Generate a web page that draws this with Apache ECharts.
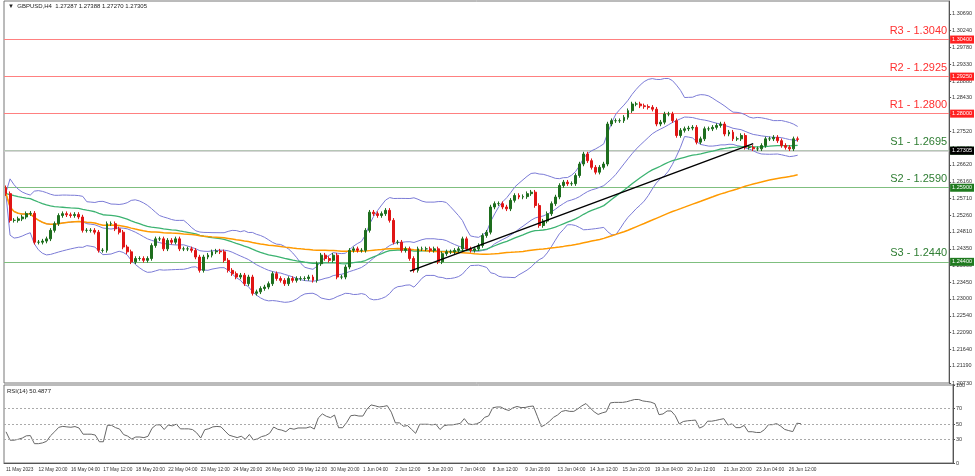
<!DOCTYPE html>
<html><head><meta charset="utf-8">
<script src="https://cdn.jsdelivr.net/npm/echarts@6/dist/echarts.min.js"></script>
<style>html,body{margin:0;padding:0;background:#fff}#c{width:975px;height:476px}</style>
</head><body><div id="c"></div>
<script>
const closesA=[1.2584,1.2512,1.2512,1.2516,1.2521,1.2530,1.2531,1.2453,1.2453,1.2456,1.2462,1.2485,1.2503,1.2525,1.2530,1.2527,1.2525,1.2528,1.2521,1.2485,1.2485,1.2485,1.2480,1.2431,1.2431,1.2503,1.2503,1.2489,1.2480,1.2440,1.2427,1.2400,1.2409,1.2409,1.2404,1.2409,1.2444,1.2462,1.2462,1.2435,1.2458,1.2453,1.2462,1.2435,1.2435,1.2435,1.2431,1.2413,1.2377,1.2413,1.2418,1.2427,1.2429,1.2427,1.2404,1.2377,1.2368,1.2359,1.2364,1.2341,1.2359,1.2315,1.2319,1.2328,1.2332,1.2341,1.2368,1.2355];
const closesB=[1.2350,1.2341,1.2355,1.2350,1.2355,1.2355,1.2355,1.2359,1.2350,1.2395,1.2418,1.2409,1.2404,1.2418,1.2359,1.2359,1.2386,1.2431,1.2435,1.2431,1.2431,1.2485,1.2534,1.2530,1.2525,1.2530,1.2539,1.2512,1.2453,1.2453,1.2431,1.2435,1.2409,1.2377,1.2435,1.2435,1.2435,1.2431,1.2435,1.2400,1.2422,1.2427,1.2427,1.2431,1.2435,1.2462,1.2435,1.2431,1.2435,1.2444,1.2471,1.2480,1.2548,1.2557,1.2557,1.2548,1.2543,1.2566,1.2579,1.2575,1.2576,1.2584,1.2588,1.2552,1.2498,1.2510,1.2530];
const closesC=[1.2557,1.2575,1.2606,1.2615,1.2611,1.2611,1.2633,1.2664,1.2691,1.2673,1.2655,1.2642,1.2655,1.2664,1.2772,1.2781,1.2781,1.2781,1.2790,1.2808,1.2826,1.2826,1.2821,1.2819,1.2817,1.2812,1.2772,1.2777,1.2799,1.2799,1.2781,1.2741,1.2755,1.2759,1.2761,1.2763,1.2723,1.2732,1.2759,1.2759,1.2763,1.2768,1.2772,1.2745,1.2750,1.2732,1.2732,1.2741,1.2709,1.2709,1.2705,1.2705,1.2714,1.2732,1.2732,1.2736,1.2727,1.2714,1.2709,1.2705,1.2732,1.27305];
const firstOpen=1.2600;
const wick=0.0006;
const tickLabels=["11 May 2023","12 May 20:00","16 May 04:00","17 May 12:00","18 May 20:00","22 May 04:00","23 May 12:00","24 May 20:00","26 May 04:00","29 May 12:00","30 May 20:00","1 Jun 04:00","2 Jun 12:00","5 Jun 20:00","7 Jun 04:00","8 Jun 12:00","9 Jun 20:00","13 Jun 04:00","14 Jun 12:00","15 Jun 20:00","19 Jun 04:00","20 Jun 12:00","21 Jun 20:00","23 Jun 04:00","26 Jun 12:00"];
const priceTicks=[1.30690,1.30240,1.29780,1.29330,1.28880,1.28430,1.27970,1.27520,1.27070,1.26620,1.26160,1.25710,1.25260,1.24810,1.24350,1.23900,1.23450,1.23000,1.22540,1.22090,1.21640,1.21190,1.20730];
const resist=[["R3",1.3040],["R2",1.2925],["R1",1.2800]];
const support=[["S1",1.2695],["S2",1.2590],["S3",1.2440]];
const lastPrice=1.27305;
const trendLine=[[100,1.2375],[185,1.2719]];
const rsiTicks=[0,30,50,70,100];

const closes=closesA.concat(closesB,closesC);
const n=closes.length, pad=Math.round(n*149/798), N=n+pad;
const candles=closes.map((c,i)=>{const o=i?closes[i-1]:firstOpen;return [o,c,Math.min(o,c)-wick,Math.max(o,c)+wick];});
const barsPerLabel=(n*780/798)/(tickLabels.length-1);
const cats=[];for(let i=0;i<N;i++)cats.push('');
tickLabels.forEach((t,j)=>{const k=Math.round(j*barsPerLabel);if(k<N)cats[k]=t;});
function sma(p){return closes.map((_,i)=>{const s=closes.slice(Math.max(0,i-p+1),i+1);return s.reduce((a,b)=>a+b,0)/s.length;});}
function ema(p){let e=closes[0];const a=2/(p+1);return closes.map(c=>e=e+a*(c-e));}
const mid=sma(20);
const sd=closes.map((_,i)=>{const s=closes.slice(Math.max(0,i-19),i+1);const m=mid[i];return Math.sqrt(s.reduce((a,b)=>a+(b-m)*(b-m),0)/s.length);});
const up=mid.map((m,i)=>m+2*sd[i]+0.0004), dn=mid.map((m,i)=>m-2*sd[i]-0.0004);
const g=ema(50), o=sma(100);
let ag=0.0006,al=0.0009;const rsi=[];
for(let i=0;i<n;i++){if(i===0){rsi.push(40);continue;}const d=closes[i]-closes[i-1];const gn=Math.max(d,0),ls=Math.max(-d,0);
 ag=(ag*13+gn)/14;al=(al*13+ls)/14;
 rsi.push(al===0?100:100-100/(1+ag/al));}
const ln=(d,c,w)=>({type:'line',data:d,symbol:'none',lineStyle:{color:c,width:w},silent:true,z:3});
const lvl=(arr,c,tc)=>arr.map(([k,v])=>({yAxis:v,lineStyle:{color:c,width:1.2,type:'solid'},label:{show:true,position:'insideEndTop',formatter:k+' - '+v.toFixed(4),color:tc,fontSize:11,fontFamily:'Arial',distance:[2,3]}}));
const box=(v,bg)=>({yAxis:v,lineStyle:{color:'transparent',width:1},label:{show:true,position:'end',formatter:v.toFixed(5),color:'#fff',backgroundColor:bg,fontSize:5.5,padding:[1,2],distance:1}});
const chart=echarts.init(document.getElementById('c'));
chart.setOption({animation:false,
 grid:[{left:4,right:22,top:1,height:382,show:true,borderColor:'#777',borderWidth:1},{left:4,right:22,top:385,height:78,show:true,borderColor:'#777',borderWidth:1}],
 xAxis:[{type:'category',data:cats,gridIndex:0,boundaryGap:true,axisLine:{show:false},axisTick:{show:false},axisLabel:{show:false}},
  {type:'category',data:cats,gridIndex:1,boundaryGap:true,axisLine:{lineStyle:{color:'#555'}},axisTick:{show:false},axisLabel:{interval:0,formatter:v=>v,fontSize:4.8,color:'#333',align:'left',margin:4,fontFamily:'Arial'}}],
 yAxis:[{type:'value',gridIndex:0,position:'right',min:1.2073,max:1.3104,splitLine:{show:false},axisLine:{show:true,lineStyle:{color:'#555'}},axisTick:{show:true,customValues:priceTicks,length:2},axisLabel:{customValues:priceTicks,formatter:v=>v.toFixed(5),fontSize:5.5,color:'#333',margin:3,fontFamily:'Arial'}},
  {type:'value',gridIndex:1,position:'right',min:0,max:100,splitLine:{show:false},axisLine:{show:true,lineStyle:{color:'#555'}},axisTick:{show:true,customValues:rsiTicks,length:2},axisLabel:{customValues:rsiTicks,fontSize:5.5,color:'#333',margin:3}}],
 series:[
  {type:'candlestick',data:candles,barWidth:'60%',z:5,itemStyle:{color:'#1e6e1e',color0:'#e01515',borderColor:'#1e6e1e',borderColor0:'#e01515',borderWidth:1},
   markLine:{symbol:'none',silent:true,z:2,data:lvl(resist,'#ff8080','#ff3030').concat(lvl(support,'#7fbf7f','#2e7d32')).concat([{yAxis:lastPrice,lineStyle:{color:'#c8c8c8',width:1.5,type:'solid'},label:{show:false}}])}},
  ln(up,'#7b7bd6',1),ln(mid,'#7b7bd6',1),ln(dn,'#7b7bd6',1),
  ln(g,'#3cb371',1.3),ln(o,'#ff9a00',1.5),
  {type:'line',data:trendLine,symbol:'none',lineStyle:{color:'#000',width:1.5},z:6,
   markLine:{symbol:'none',silent:true,data:resist.map(r=>box(r[1],'#ff2020')).concat(support.map(s=>box(s[1],'#1f7a1f'))).concat([box(lastPrice,'#000')])}},
  {type:'line',xAxisIndex:1,yAxisIndex:1,data:rsi,symbol:'none',lineStyle:{color:'#666',width:1},
   markLine:{symbol:'none',silent:true,label:{show:false},lineStyle:{color:'#aaa',type:[2,2],width:1},data:[{yAxis:30},{yAxis:50},{yAxis:70}]}}
 ],
 graphic:[{type:'text',left:8,top:3,style:{text:'▼  GBPUSD,H4  1.27287 1.27388 1.27270 1.27305',fontSize:6,fill:'#222',fontFamily:'Arial'}},
  {type:'text',left:7,top:388,style:{text:'RSI(14) 50.4877',fontSize:6,fill:'#222',fontFamily:'Arial'}}]
});
</script></body></html>
